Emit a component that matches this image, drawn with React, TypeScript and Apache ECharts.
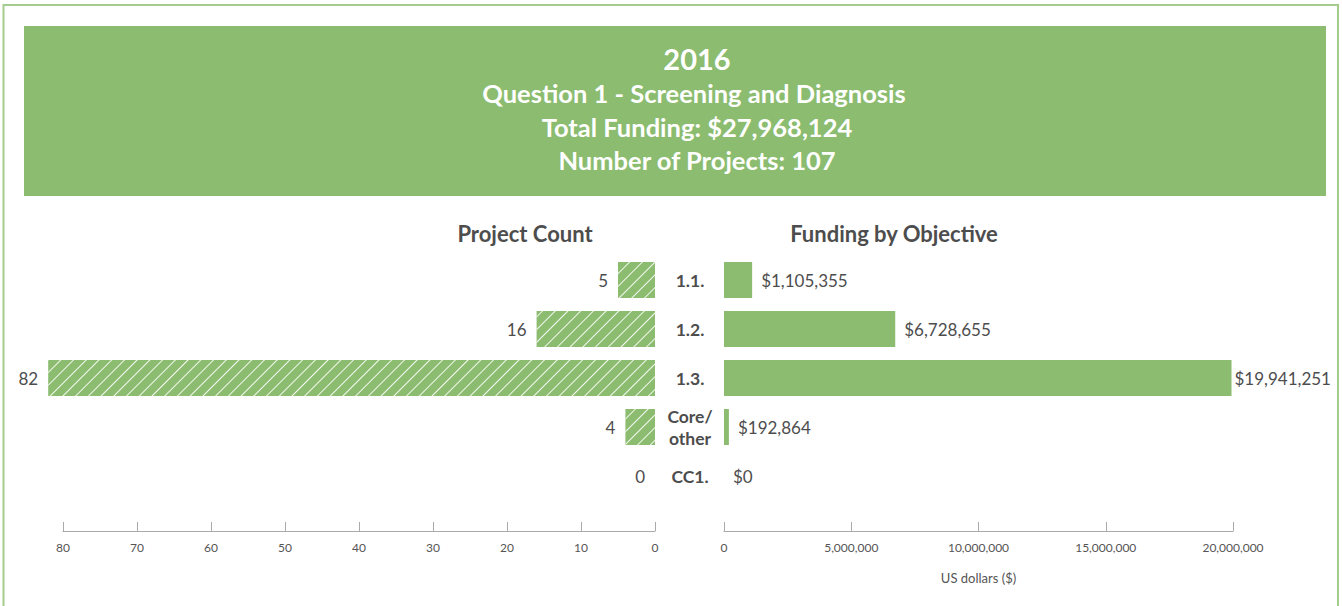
import React, { useEffect, useRef } from "react";
import * as echarts from "echarts";

const categories = ["1.1.", "1.2.", "1.3.", "Core/\nother", "CC1."];
const projectCounts = [5, 16, 82, 4, 0];
const funding = [1105355, 6728655, 19941251, 192864, 0];
const countTicks = [0, 80, 10];
const fundingTicks = [0, 20000000, 5000000];
const headerLines = ["2016", "Question 1 - Screening and Diagnosis", "Total Funding: $27,968,124", "Number of Projects: 107"];
const leftTitle = "Project Count";
const rightTitle = "Funding by Objective";
const fundingAxisName = "US dollars ($)";

const GREEN = "#8BBC6F";
const DARK = "#4d4d4d";
const FONT = "Lato, 'Noto Sans', sans-serif";

export default function App() {
  const ref = useRef<HTMLDivElement>(null);
  useEffect(() => {
    if (!ref.current) return;
    const chart = echarts.init(ref.current, undefined, { renderer: "svg" });
    const top = 255.5;
    const height = 245;
    const maxFunding = Math.max(...funding);
    chart.setOption({
      animation: false,
      textStyle: { fontFamily: FONT },
      graphic: [
        { type: "rect", shape: { x: 3.5, y: 5, width: 1334.5, height: 640 }, style: { fill: "none", stroke: "#a5cc8f", lineWidth: 2 } },
        { type: "rect", shape: { x: 24, y: 26, width: 1302, height: 170 }, style: { fill: GREEN } },
        { type: "text", x: 697, y: 58, style: { text: headerLines[0], fill: "#fff", font: `bold 29px ${FONT}`, align: "center", verticalAlign: "middle" } },
        { type: "text", x: 694, y: 93, style: { text: headerLines[1], fill: "#fff", font: `bold 25.5px ${FONT}`, align: "center", verticalAlign: "middle" } },
        { type: "text", x: 697, y: 127, style: { text: headerLines[2], fill: "#fff", font: `bold 25.5px ${FONT}`, align: "center", verticalAlign: "middle" } },
        { type: "text", x: 697, y: 160, style: { text: headerLines[3], fill: "#fff", font: `bold 25.5px ${FONT}`, align: "center", verticalAlign: "middle" } },
        { type: "text", x: 525, y: 233, style: { text: leftTitle, fill: DARK, font: `bold 22px ${FONT}`, align: "center", verticalAlign: "middle" } },
        { type: "text", x: 894, y: 233, style: { text: rightTitle, fill: DARK, font: `bold 22px ${FONT}`, align: "center", verticalAlign: "middle" } },
      ],
      grid: [
        { left: 63, right: 1342 - 655, top, height },
        { left: 724, right: 1342 - 1233, top, height },
      ],
      xAxis: [
        {
          gridIndex: 0, type: "value", inverse: true, min: countTicks[0], max: countTicks[1], interval: countTicks[2],
          offset: 30.5, splitLine: { show: false },
          axisLine: { show: true, lineStyle: { color: "#aaa", width: 1 } },
          axisTick: { show: true, inside: true, length: 9, lineStyle: { color: "#aaa" } },
          axisLabel: { color: "#555", fontSize: 12, margin: 10, fontFamily: FONT },
        },
        {
          gridIndex: 1, type: "value", min: fundingTicks[0], max: fundingTicks[1], interval: fundingTicks[2],
          offset: 30.5, splitLine: { show: false },
          axisLine: { show: true, lineStyle: { color: "#aaa", width: 1 } },
          axisTick: { show: true, inside: true, length: 9, lineStyle: { color: "#aaa" } },
          axisLabel: { color: "#555", fontSize: 12, margin: 10, fontFamily: FONT, formatter: (v: number) => v.toLocaleString("en-US") },
          name: fundingAxisName, nameLocation: "middle", nameGap: 40,
          nameTextStyle: { color: "#555", fontSize: 13, fontFamily: FONT },
        },
      ],
      yAxis: [
        { gridIndex: 0, type: "category", data: categories, inverse: true, show: false },
        {
          gridIndex: 1, type: "category", data: categories, inverse: true,
          axisLine: { show: false }, axisTick: { show: false },
          axisLabel: { align: "center", margin: 34, color: DARK, fontSize: 17.5, fontWeight: "bold", lineHeight: 22, fontFamily: FONT },
        },
      ],
      series: [
        {
          type: "bar", xAxisIndex: 0, yAxisIndex: 0, data: projectCounts, barWidth: 36, clip: false,
          itemStyle: {
            color: GREEN,
            decal: { symbol: "rect", symbolSize: 1, dashArrayX: [1, 0], dashArrayY: [1, 8], rotation: -Math.PI / 4, color: "rgba(255,255,255,0.9)" },
          },
          label: { show: true, position: "left", distance: 10, color: DARK, fontSize: 17, fontFamily: FONT },
        },
        {
          type: "bar", xAxisIndex: 1, yAxisIndex: 1, barWidth: 36, clip: false,
          data: funding.map((v) => (v === maxFunding ? { value: v, label: { distance: 3 } } : v)),
          itemStyle: { color: GREEN },
          label: { show: true, position: "right", distance: 9, color: DARK, fontSize: 17, fontFamily: FONT, formatter: (p: any) => "$" + Number(p.value).toLocaleString("en-US") },
        },
      ],
    });
    return () => chart.dispose();
  }, []);
  return <div ref={ref} style={{ position: "fixed", left: 0, top: 0, width: 1342, height: 606, background: "#fff" }} />;
}
